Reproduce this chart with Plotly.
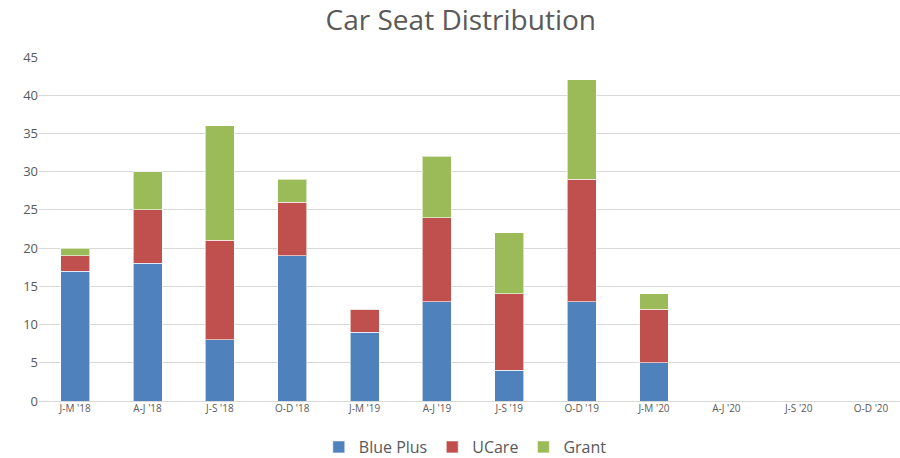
import plotly.graph_objects as go

categories = ["J-M '18", "A-J '18", "J-S '18", "O-D '18", "J-M '19", "A-J '19",
              "J-S '19", "O-D '19", "J-M '20", "A-J '20", "J-S '20", "O-D '20"]
blue_plus = [17, 18, 8, 19, 9, 13, 4, 13, 5, 0, 0, 0]
ucare = [2, 7, 13, 7, 3, 11, 10, 16, 7, 0, 0, 0]
grant = [1, 5, 15, 3, 0, 8, 8, 13, 2, 0, 0, 0]

series = [("Blue Plus", blue_plus, "#4F81BD"),
          ("UCare", ucare, "#C0504D"),
          ("Grant", grant, "#9BBB59")]

fig = go.Figure()
for name, vals, color in series:
    fig.add_trace(go.Bar(
        x=categories, y=vals, name=name,
        marker=dict(color=color, line=dict(color="rgba(255,255,255,0.6)", width=1)),
        width=0.4,
    ))

fig.update_layout(
    barmode="stack",
    width=900, height=458,
    paper_bgcolor="white", plot_bgcolor="white",
    margin=dict(l=39, r=0, t=57, b=57, autoexpand=False),
    title=dict(text="Car Seat Distribution", x=0.512, xanchor="center",
               xref="container", yref="container",
               y=0.956, yanchor="middle",
               font=dict(family="Open Sans", size=28, color="#595959")),
    font=dict(family="Open Sans", color="#595959"),
    xaxis=dict(range=[-0.5, 11.4], showgrid=False, showline=False, zeroline=False,
               automargin=False,
               tickfont=dict(size=10, color="#595959"), ticks=""),
    yaxis=dict(range=[0, 45], dtick=5, showgrid=True, gridcolor="#D9D9D9",
               automargin=False,
               gridwidth=1, zeroline=True, zerolinecolor="#D9D9D9", zerolinewidth=1,
               tickfont=dict(size=13, color="#595959"), ticks="", ticklen=0),
    legend=dict(orientation="h", x=0.517, xanchor="center", xref="container",
                yref="container", y=0.024, yanchor="middle",
                font=dict(size=16, color="#595959"), traceorder="normal"),
    bargap=0.6,
)

fig.write_html("out.html", config={"displayModeBar": False},
               post_script="document.body.style.margin='0';document.body.style.overflow='hidden';")
